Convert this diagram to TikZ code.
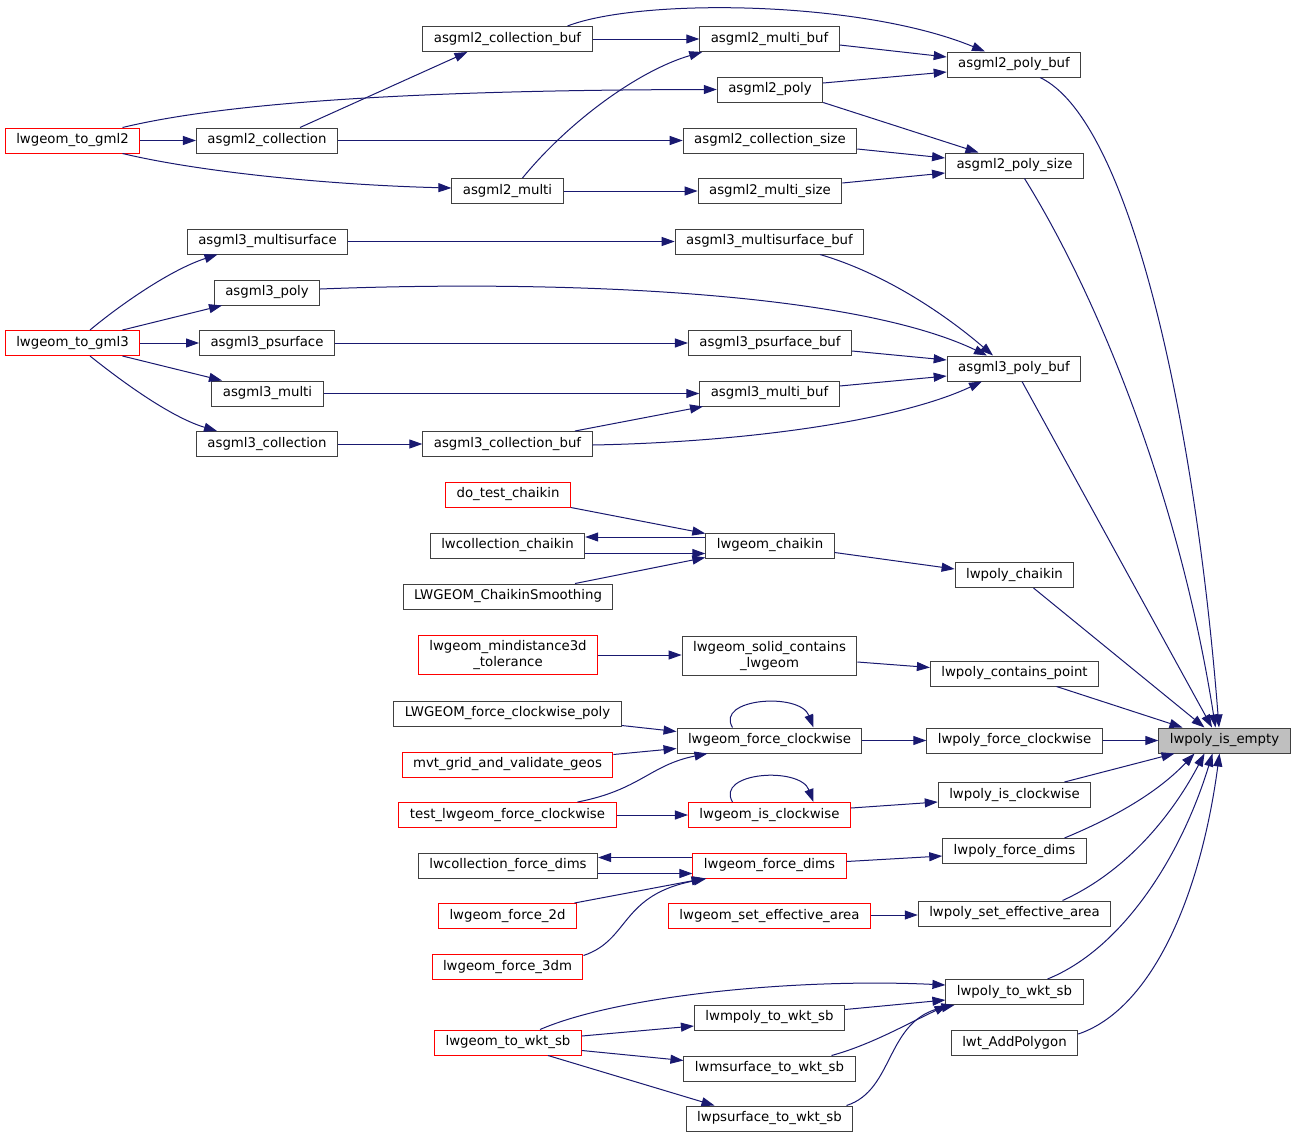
\documentclass[tikz,border=0pt]{standalone}
\usepackage{fontspec}
\setmainfont{DejaVu Sans}
\usetikzlibrary{arrows.meta}
\definecolor{edgeblue}{HTML}{191970}
\definecolor{boxgray}{HTML}{404040}
\definecolor{rootgray}{HTML}{BFBFBF}
\begin{document}
\begin{tikzpicture}[x=1pt,y=-1pt,
    fn/.style={draw=boxgray,fill=white,line width=1pt,minimum height=25pt,inner xsep=11pt,inner ysep=5pt,align=center,font=\fontsize{13.3}{15.5}\selectfont},
    fnred/.style={fn,draw=red},
    fnroot/.style={fn,fill=rootgray},
    calls/.style={edgeblue,line width=1pt,-{Triangle[length=13pt,width=9pt]}}]
  \path[use as bounding box,fill=white] (0,0) rectangle (1296,1138);
  % gml2
  \node[fnred] (gmltwo) at (72.5,140.5) {lwgeom\_to\_gml2};
  \node[fn] (acoll) at (267,140.5) {asgml2\_collection};
  \node[fn] (acollbuf) at (507.5,39) {asgml2\_collection\_buf};
  \node[fn] (amulti) at (507.5,191) {asgml2\_multi};
  \node[fn] (amultibuf) at (769.5,39) {asgml2\_multi\_buf};
  \node[fn] (apoly) at (770,89.5) {asgml2\_poly};
  \node[fn] (acollsize) at (770,140.5) {asgml2\_collection\_size};
  \node[fn] (amultisize) at (770,191) {asgml2\_multi\_size};
  \node[fn] (apolybuf) at (1014,64.5) {asgml2\_poly\_buf};
  \node[fn] (apolysize) at (1014.5,165.5) {asgml2\_poly\_size};
  % gml3
  \node[fnred] (gmlthree) at (72.5,343) {lwgeom\_to\_gml3};
  \node[fn] (bmsurf) at (267.5,241.5) {asgml3\_multisurface};
  \node[fn] (bpoly) at (267,292.5) {asgml3\_poly};
  \node[fn] (bpsurf) at (267,343) {asgml3\_psurface};
  \node[fn] (bmulti) at (267.5,393.5) {asgml3\_multi};
  \node[fn] (bcoll) at (267,444) {asgml3\_collection};
  \node[fn] (bmsurfbuf) at (769.5,241.5) {asgml3\_multisurface\_buf};
  \node[fn] (bpsurfbuf) at (770,343) {asgml3\_psurface\_buf};
  \node[fn] (bmultibuf) at (769.5,393.5) {asgml3\_multi\_buf};
  \node[fn] (bcollbuf) at (507.5,444) {asgml3\_collection\_buf};
  \node[fn] (bpolybuf) at (1014,368.5) {asgml3\_poly\_buf};
  % chaikin, contains
  \node[fnred] (dotest) at (508,494.5) {do\_test\_chaikin};
  \node[fn] (colchaikin) at (507.5,545.5) {lwcollection\_chaikin};
  \node[fn] (smoothing) at (508,596.5) {LWGEOM\_ChaikinSmoothing};
  \node[fn] (geomchaikin) at (770,545.5) {lwgeom\_chaikin};
  \node[fn] (polychaikin) at (1014.5,575) {lwpoly\_chaikin};
  \node[fnred] (mindist) at (508,655) {lwgeom\_mindistance3d\\\_tolerance};
  \node[fn] (solid) at (769.5,656) {lwgeom\_solid\_contains\\\_lwgeom};
  \node[fn] (contains) at (1014.5,673.5) {lwpoly\_contains\_point};
  % clockwise
  \node[fn] (fcpoly) at (507.5,713.5) {LWGEOM\_force\_clockwise\_poly};
  \node[fnred] (mvt) at (507.5,764.5) {mvt\_grid\_and\_validate\_geos};
  \node[fnred] (testfc) at (507.5,815) {test\_lwgeom\_force\_clockwise};
  \node[fn] (geomfc) at (769.5,740.5) {lwgeom\_force\_clockwise};
  \node[fnred] (geomisc) at (769.5,815) {lwgeom\_is\_clockwise};
  \node[fn] (polyfc) at (1014.5,740.5) {lwpoly\_force\_clockwise};
  \node[fn] (polyisc) at (1014.5,795) {lwpoly\_is\_clockwise};
  \node[fnroot] (empty) at (1224.5,740.5) {lwpoly\_is\_empty};
  % dims, area
  \node[fn] (colfd) at (508,865.5) {lwcollection\_force\_dims};
  \node[fnred] (geomfd) at (769.5,865.5) {lwgeom\_force\_dims};
  \node[fnred] (ftwod) at (507.5,916) {lwgeom\_force\_2d};
  \node[fnred] (fthreedm) at (507.5,967) {lwgeom\_force\_3dm};
  \node[fn] (polyfd) at (1014.5,851) {lwpoly\_force\_dims};
  \node[fnred] (geomsea) at (769.5,916) {lwgeom\_set\_effective\_area};
  \node[fn] (polysea) at (1014.5,913.5) {lwpoly\_set\_effective\_area};
  % wkt
  \node[fnred] (geomwkt) at (508,1042.5) {lwgeom\_to\_wkt\_sb};
  \node[fn] (mpolywkt) at (769.5,1017.5) {lwmpoly\_to\_wkt\_sb};
  \node[fn] (msurfwkt) at (769.5,1068.5) {lwmsurface\_to\_wkt\_sb};
  \node[fn] (psurfwkt) at (769.5,1118.5) {lwpsurface\_to\_wkt\_sb};
  \node[fn] (polywkt) at (1014.5,992) {lwpoly\_to\_wkt\_sb};
  \node[fn] (addpoly) at (1014.5,1043) {lwt\_AddPolygon};

  \draw[calls] (acollbuf) -- (amultibuf);
  \draw[calls] ([xshift=60pt]acollbuf.north) .. controls (640,-2) and (860,0) .. ([xshift=-29pt]apolybuf.north);
  \draw[calls] ([yshift=-6pt]amultibuf.east) -- ([yshift=7.5pt]apolybuf.west);
  \draw[calls] ([yshift=6.5pt]apoly.east) -- ([yshift=-7.5pt]apolybuf.west);
  \draw[calls] (apoly.south east) -- ([xshift=-36pt]apolysize.north);
  \draw[calls] ([yshift=-8.5pt]acollsize.east) -- ([yshift=7.5pt]apolysize.west);
  \draw[calls] ([yshift=8pt]amultisize.east) -- ([yshift=-7.5pt]apolysize.west);
  \draw[calls] (gmltwo) -- (acoll);
  \draw[calls] ([xshift=50pt]gmltwo.north) .. controls (220,104) and (400,90) .. (apoly.west);
  \draw[calls] ([xshift=50pt]gmltwo.south) .. controls (200,172) and (330,185) .. ([yshift=3pt]amulti.west);
  \draw[calls] ([xshift=33pt]acoll.north) -- ([xshift=-40pt]acollbuf.south);
  \draw[calls] (acoll) -- (acollsize);
  \draw[calls] ([xshift=15pt]amulti.north) .. controls (570,120) and (640,70) .. ([xshift=3pt]amultibuf.south west);
  \draw[calls] (amulti) -- (amultisize);
  \draw[calls] ([xshift=26pt]apolybuf.south) .. controls (1130,120) and (1195,420) .. ([xshift=-5.5pt]empty.north);
  \draw[calls] ([xshift=10pt]apolysize.south) .. controls (1100,300) and (1180,500) .. ([xshift=-9pt]empty.north);

  \draw[calls] ([xshift=17.5pt]gmlthree.north) .. controls (120,305) and (170,270) .. ([xshift=-50pt]bmsurf.south);
  \draw[calls] ([xshift=50pt]gmlthree.north) -- ([xshift=-45pt]bpoly.south);
  \draw[calls] (gmlthree) -- (bpsurf);
  \draw[calls] ([xshift=50pt]gmlthree.south) -- ([xshift=-45.5pt]bmulti.north);
  \draw[calls] ([xshift=17.5pt]gmlthree.south) .. controls (120,380) and (170,417) .. ([xshift=-50pt]bcoll.north);
  \draw[calls] (bmsurf) -- (bmsurfbuf);
  \draw[calls] ([yshift=3.5pt]bpoly.east) .. controls (550,280) and (850,290) .. ([xshift=-27pt]bpolybuf.north);
  \draw[calls] (bpsurf) -- (bpsurfbuf);
  \draw[calls] (bmulti) -- (bmultibuf);
  \draw[calls] (bcoll) -- (bcollbuf);
  \draw[calls] ([xshift=67.5pt]bcollbuf.north) -- ([xshift=-66.5pt]bmultibuf.south);
  \draw[calls] ([yshift=-1pt]bcollbuf.east) .. controls (750,442) and (900,420) .. ([xshift=-32pt]bpolybuf.south);
  \draw[calls] ([xshift=50.5pt]bmsurfbuf.south) .. controls (880,272) and (940,310) .. ([xshift=-21pt]bpolybuf.north);
  \draw[calls] ([yshift=-8pt]bpsurfbuf.east) -- ([yshift=8.5pt]bpolybuf.west);
  \draw[calls] ([yshift=7.5pt]bmultibuf.east) -- ([yshift=-7.5pt]bpolybuf.west);
  \draw[calls] ([xshift=8pt]bpolybuf.south) -- ([xshift=-12.5pt]empty.north);

  \draw[calls] (dotest.south east) -- ([yshift=12pt]geomchaikin.west);
  \draw[calls] ([yshift=8.5pt]geomchaikin.west) -- ([yshift=8.5pt]colchaikin.east);
  \draw[calls] ([yshift=-8pt]colchaikin.east) -- ([yshift=-8pt]geomchaikin.west);
  \draw[calls] ([xshift=67pt]smoothing.north) -- ([yshift=-12pt]geomchaikin.west);
  \draw[calls] ([yshift=-7pt]geomchaikin.east) -- ([yshift=6pt]polychaikin.west);
  \draw[calls] ([xshift=19pt]polychaikin.south) -- ([xshift=-20pt]empty.north);
  \draw[calls] (mindist) -- (mindist.east -| solid.west);
  \draw[calls] ([yshift=-6pt]solid.east) -- ([yshift=6pt]contains.west);
  \draw[calls] ([xshift=42pt]contains.south) -- ([xshift=-42pt]empty.north);

  \draw[calls] ([yshift=-12pt]fcpoly.east) -- ([yshift=9pt]geomfc.west);
  \draw[calls] ([yshift=10pt]mvt.east) -- ([yshift=-8pt]geomfc.west);
  \draw[calls] ([xshift=70pt]testfc.north) .. controls (640,790) and (650,765) .. ([xshift=-62pt]geomfc.south);
  \draw[calls] ([xshift=-37pt]geomfc.north) .. controls (715,698) and (800,692) .. ([xshift=44pt]geomfc.north);
  \draw[calls] (testfc) -- (geomisc);
  \draw[calls] ([xshift=-37pt]geomisc.north) .. controls (715,772) and (800,766) .. ([xshift=44pt]geomisc.north);
  \draw[calls] (geomfc) -- (polyfc);
  \draw[calls] (polyfc) -- (empty);
  \draw[calls] ([yshift=7pt]geomisc.east) -- ([yshift=-7pt]polyisc.west);
  \draw[calls] ([xshift=50pt]polyisc.north) -- ([xshift=-50pt]empty.south);

  \draw[calls] ([yshift=8pt]geomfd.west) -- ([yshift=8pt]colfd.east);
  \draw[calls] ([yshift=-8pt]colfd.east) -- ([yshift=-8pt]geomfd.west);
  \draw[calls] ([xshift=67pt]ftwod.north) -- ([xshift=-65pt]geomfd.south);
  \draw[calls] ([yshift=-1.5pt]fthreedm.north east) .. controls (630,940) and (620,895) .. ([xshift=-63pt]geomfd.south);
  \draw[calls] ([yshift=4pt]geomfd.east) -- ([yshift=-5pt]polyfd.west);
  \draw[calls] ([xshift=50pt]polyfd.north) .. controls (1120,815) and (1160,790) .. ([xshift=-30pt]empty.south);
  \draw[calls] ([yshift=1pt]geomsea.east) -- ([yshift=-1.5pt]polysea.west);
  \draw[calls] ([xshift=48pt]polysea.north) .. controls (1130,870) and (1175,810) .. ([xshift=-20pt]empty.south);

  \draw[calls] ([xshift=32pt]geomwkt.north) .. controls (620,995) and (800,978) .. ([yshift=7pt]polywkt.west);
  \draw[calls] ([yshift=6.5pt]geomwkt.east) -- ([yshift=-8.5pt]mpolywkt.west);
  \draw[calls] ([yshift=-8pt]geomwkt.east) -- ([yshift=8pt]msurfwkt.west);
  \draw[calls] ([xshift=40pt]geomwkt.south) -- ([xshift=-55pt]psurfwkt.north);
  \draw[calls] ([yshift=8pt]mpolywkt.east) -- ([yshift=-8pt]polywkt.west);
  \draw[calls] ([xshift=62pt]msurfwkt.north) .. controls (870,1045) and (905,1025) .. ([xshift=-67pt]polywkt.south);
  \draw[calls] ([xshift=77pt]psurfwkt.north) .. controls (895,1090) and (885,1020) .. ([xshift=-60pt]polywkt.south);
  \draw[calls] ([xshift=33pt]polywkt.north) .. controls (1120,950) and (1180,860) .. ([xshift=-12pt]empty.south);
  \draw[calls] ([yshift=9pt]addpoly.east) .. controls (1150,1010) and (1200,900) .. ([xshift=-5pt]empty.south);
\end{tikzpicture}
\end{document}
